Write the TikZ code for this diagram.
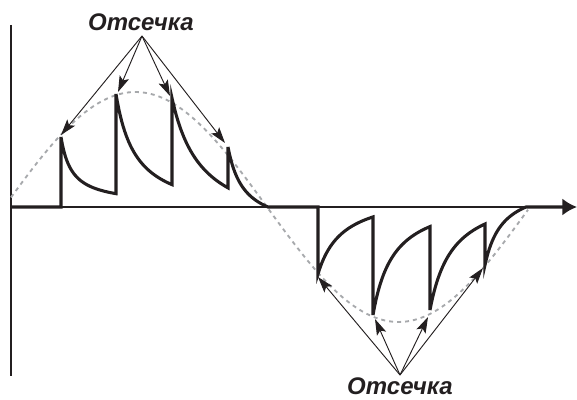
\documentclass[tikz,border=0pt]{standalone}
\usepackage{fontspec}
\setsansfont{Liberation Sans}
\usepackage{xcolor}
\definecolor{cInk}{HTML}{231F20}
\definecolor{cSine}{HTML}{A7A9AC}
\usetikzlibrary{arrows.meta}
\tikzset{
  axis-line/.style={draw=cInk,line width=1.1pt},
  signal-line/.style={draw=cInk,line width=2.3pt,line join=miter},
  sine-ref/.style={draw=cSine,line width=1.4pt,dash pattern=on 3pt off 3pt},
  arrow-cut/.style={-{Stealth[length=12pt,width=7.5pt,inset=2.5pt]},draw=cInk,line width=0.7pt},
  label-cut/.style={font=\sffamily\bfseries\itshape\fontsize{18}{21}\selectfont,
    text=cInk,inner sep=0pt,anchor=base},
}

\begin{document}
\begin{tikzpicture}[x=0.75pt,y=-0.75pt]
  \useasboundingbox (0,0) rectangle (577,399);
  % axes
  \coordinate (orig) at (11,207);
  \coordinate (yTop) at (11,25);
  \coordinate (yBot) at (11,376);
  \coordinate (xAxEnd) at (560,207);
  \coordinate (xTip) at (577,207);
  \draw[axis-line] (yTop) -- (yBot);
  \draw[axis-line] (orig) -- (xAxEnd);
  % reference sine
  \draw[sine-ref] plot[domain=11:528,samples=120] (\x,{207-115*sin(0.68441*(\x-4))});
  % chopped signal
  \draw[signal-line,-{Latex[length=11pt,width=13pt]}] (orig) -- (61,207)
    \foreach \xa/\xb/\hA/\kC/\kD in {61/116/70/11/-2, 116/172/113/20/10,
        172/228/109/30/29, 228/268/60/16/24}
      { -- plot[domain=\xa:\xb,samples=40] (\x,{207-((\hA+\kD)*\kC/(\x-\xa+\kC)-\kD)}) }
    -- (318,207)
    \foreach \xa/\xb/\hA/\kC/\kD in {318/373/67/25/16, 373/430/108/21/13,
        430/485/103/23/19, 485/526/58/18/25.5}
      { -- plot[domain=\xa:\xb,samples=40] (\x,{207+((\hA+\kD)*\kC/(\x-\xa+\kC)-\kD)}) }
    -- (xTip);
  % cut-off labels
  \node[label-cut] (lblTop) at (141,31) {Отсечка};
  \node[label-cut] (lblBot) at (400,394) {Отсечка};
  \coordinate (apexTop) at (142,36);
  \coordinate (apexBot) at (400,375);
  \coordinate (cutT1) at (61,135);
  \coordinate (cutT2) at (118,92);
  \coordinate (cutT3) at (170,96);
  \coordinate (cutT4) at (225,143);
  \coordinate (cutB1) at (318,277);
  \coordinate (cutB2) at (375,319);
  \coordinate (cutB3) at (428,317);
  \coordinate (cutB4) at (483,268);
  \foreach \i in {1,...,4} {
    \draw[arrow-cut] (apexTop) -- (cutT\i);
    \draw[arrow-cut] (apexBot) -- (cutB\i);
  }
\end{tikzpicture}
\end{document}
